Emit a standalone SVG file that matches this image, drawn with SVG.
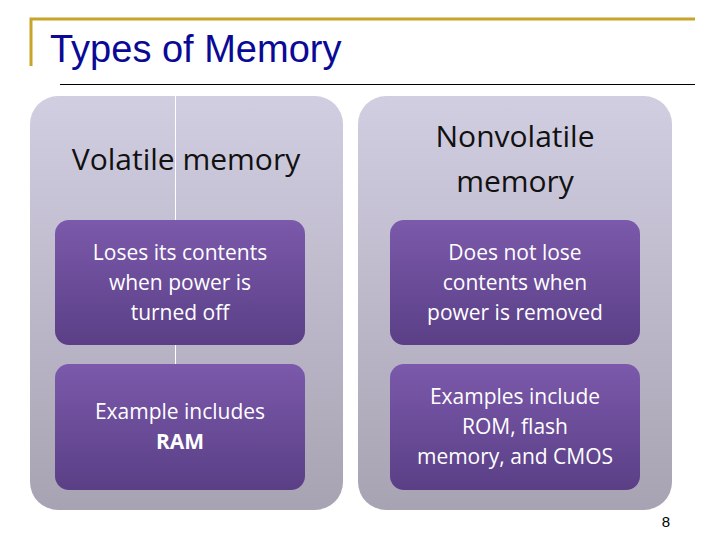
<svg xmlns="http://www.w3.org/2000/svg" width="720" height="540" viewBox="0 0 720 540">
<defs>
<linearGradient id="pg" x1="0" y1="0" x2="0" y2="1"><stop offset="0" stop-color="#d2cee2"/><stop offset="1" stop-color="#a7a3b2"/></linearGradient>
<linearGradient id="bg" x1="0" y1="0" x2="0" y2="1"><stop offset="0" stop-color="#7b59ab"/><stop offset="1" stop-color="#5a3f86"/></linearGradient>
<style>
.p{fill:url(#pg)}.b{fill:url(#bg)}
.h{font-family:"Open Sans","DejaVu Sans",sans-serif;font-size:30px;fill:#111;text-anchor:middle}
.t{font-family:"Open Sans","DejaVu Sans",sans-serif;font-size:21px;fill:#fff;text-anchor:middle}
</style>
</defs>
<rect width="720" height="540" fill="#fff"/>
<path d="M31 66V19H695" fill="none" stroke="#c8a42a" stroke-width="3"/>
<line x1="60" y1="84.5" x2="695" y2="84.5" stroke="#000" stroke-width="1"/>
<text x="50" y="62" font-family="Liberation Sans,Arial,sans-serif" font-size="38" fill="#0a0a96">Types of Memory</text>
<g id="left">
<rect class="p" x="30" y="96" width="313" height="414" rx="28"/>
<line x1="175.5" y1="96" x2="175.5" y2="364" stroke="#fff" stroke-width="1"/>
<text class="h" x="186" y="170">Volatile memory</text>
</g>
<g id="right">
<rect class="p" x="358" y="96" width="314" height="414" rx="28"/>
<text class="h" x="515" y="147">Nonvolatile</text>
<text class="h" x="515" y="192">memory</text>
</g>
<g id="l1"><rect class="b" x="55" y="220" width="250" height="125" rx="14"/>
<text class="t" x="180" y="260">Loses its contents</text><text class="t" x="180" y="290">when power is</text><text class="t" x="180" y="320">turned off</text></g>
<g id="l2"><rect class="b" x="55" y="364" width="250" height="126" rx="14"/>
<text class="t" x="180" y="419">Example includes</text><text class="t" x="180" y="449" font-weight="bold">RAM</text></g>
<g id="r1"><rect class="b" x="390" y="220" width="250" height="125" rx="14"/>
<text class="t" x="515" y="260">Does not lose</text><text class="t" x="515" y="290">contents when</text><text class="t" x="515" y="320">power is removed</text></g>
<g id="r2"><rect class="b" x="390" y="364" width="250" height="126" rx="14"/>
<text class="t" x="515" y="404">Examples include</text><text class="t" x="515" y="434">ROM, flash</text><text class="t" x="515" y="464">memory, and CMOS</text></g>
<g id="connectors"></g>
<text x="666" y="527" font-family="Liberation Sans,Arial,sans-serif" font-size="15" text-anchor="middle">8</text>
</svg>
